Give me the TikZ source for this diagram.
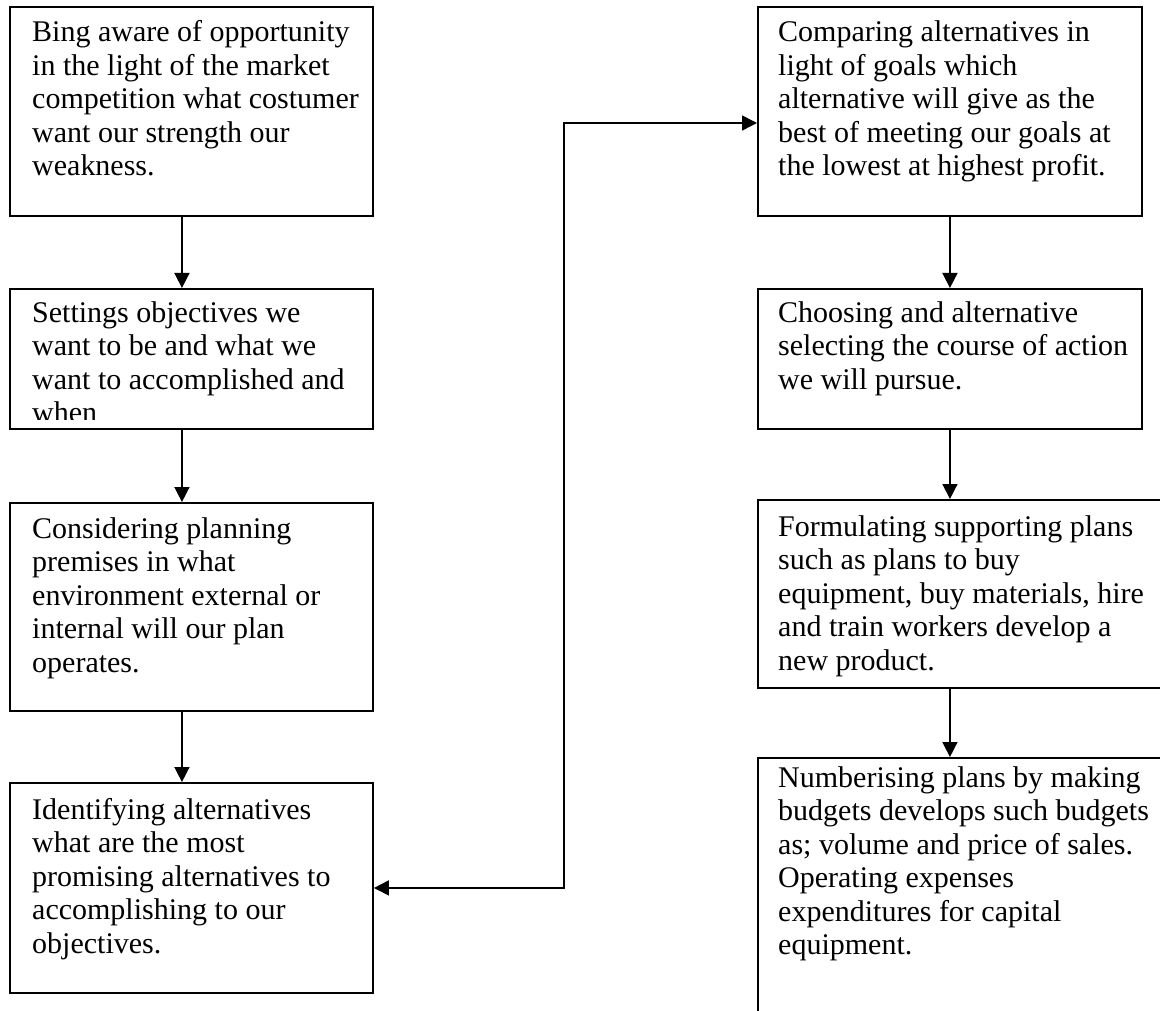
\documentclass[tikz,border=0pt]{standalone}
\usepackage{fontspec}
\setmainfont{Liberation Serif}
\usetikzlibrary{arrows.meta}
\begin{document}
\begin{tikzpicture}[x=1pt,y=-1pt,
  box/.style={draw, line width=1.9pt, rectangle, inner sep=0pt, anchor=north west},
  txt/.style={anchor=base west, align=left, inner sep=0pt,
              font=\fontsize{30}{33.5}\selectfont},
  tip/.tip={Triangle[length=15pt,width=15pt]},
  flow/.style={line width=1.6pt, -tip}]
\useasboundingbox (0,0) rectangle (1160,1011);
\clip (0,0) rectangle (1160,1011);

% left column
\node[box, minimum width=363pt, minimum height=209pt] (L1) at (9,6) {};
\node[box, minimum width=363pt, minimum height=140pt] (L2) at (9,288) {};
\node[box, minimum width=363pt, minimum height=208pt] (L3) at (9,502) {};
\node[box, minimum width=363pt, minimum height=210pt] (L4) at (9,782) {};

% right column (the last two run off the page)
\node[box, minimum width=384pt, minimum height=209pt] (R1) at (757,6) {};
\node[box, minimum width=384pt, minimum height=140pt] (R2) at (757,288) {};
\node[box, minimum width=450pt, minimum height=188pt] (R3) at (757,499) {};
\node[box, minimum width=450pt, minimum height=300pt] (R4) at (757,757) {};

% texts (anchored on the baseline of their last line)
\node[txt] (T1) at ([xshift=23pt,yshift=-170pt]L1.north west)
  {Bing aware of opportunity\\in the light of the market\\competition what costumer\\want our strength our\\weakness.};
\begin{scope}
  \clip (L2.north west) rectangle ([yshift=10pt]L2.south east);
  \node[txt] (T2) at ([xshift=23pt,yshift=-134.5pt]L2.north west)
    {Settings objectives we\\want to be and what we\\want to accomplished and\\when};
\end{scope}
\node[txt] (T3) at ([xshift=23pt,yshift=-170pt]L3.north west)
  {Considering planning\\premises in what\\environment external or\\internal will our plan\\operates.};
\node[txt] (T4) at ([xshift=23pt,yshift=-171pt]L4.north west)
  {Identifying alternatives\\what are the most\\promising alternatives to\\accomplishing to our\\objectives.};

\node[txt] (T5) at ([xshift=21pt,yshift=-170pt]R1.north west)
  {Comparing alternatives in\\light of goals which\\alternative will give as the\\best of meeting our goals at\\the lowest at highest profit.};
\node[txt] (T6) at ([xshift=21pt,yshift=-101pt]R2.north west)
  {Choosing and alternative\\selecting the course of action\\we will pursue.};
\node[txt] (T7) at ([xshift=21pt,yshift=-171pt]R3.north west)
  {Formulating supporting plans\\such as plans to buy\\equipment, buy materials, hire\\and train workers develop a\\new product.};
\node[txt] (T8) at ([xshift=21pt,yshift=-197.5pt]R4.north west)
  {Numberising plans by making\\budgets develops such budgets\\as; volume and price of sales.\\Operating expenses\\expenditures for capital\\equipment.};

% flow arrows
\draw[flow] ([xshift=-9.5pt]L1.south) -- ([xshift=-9.5pt]L2.north);
\draw[flow] ([xshift=-9.5pt]L2.south) -- ([xshift=-9.5pt]L3.north);
\draw[flow] ([xshift=-9.5pt]L3.south) -- ([xshift=-9.5pt]L4.north);
\draw[flow] (R1.south) -- (R2.north);
\draw[flow] (R2.south) -- ([xshift=-33pt]R3.north);
\draw[flow] ([xshift=-33pt]R3.south) -- ([xshift=-33pt]R4.north);

% link between the columns
\coordinate (bend) at (564,123);
\draw[line width=1.6pt, tip-tip] (L4.east) -| (bend) -- (bend -| R1.west);
\end{tikzpicture}
\end{document}
